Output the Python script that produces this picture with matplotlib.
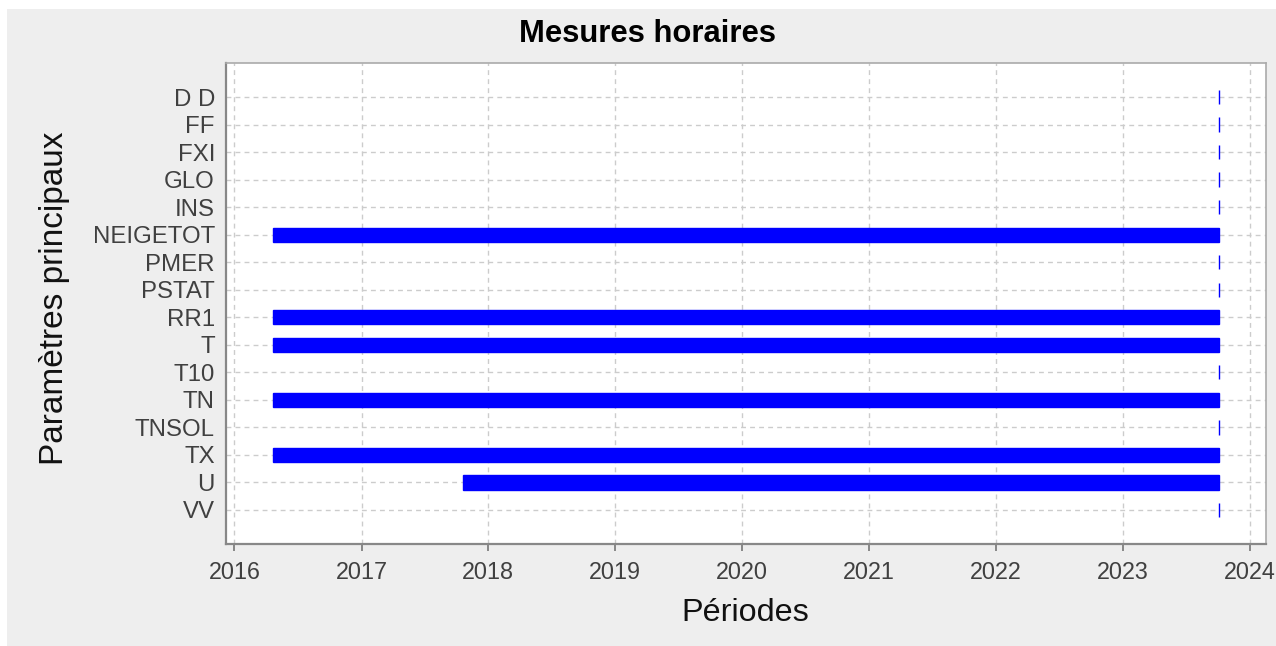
import matplotlib
matplotlib.use("Agg")
import matplotlib.pyplot as plt
import matplotlib.dates as mdates
from matplotlib.patches import Rectangle
from datetime import datetime

plt.rcParams['font.family'] = ['Liberation Sans', 'DejaVu Sans']

# ---- data ----
parameters = ["D D", "FF", "FXI", "GLO", "INS", "NEIGETOT", "PMER", "PSTAT",
              "RR1", "T", "T10", "TN", "TNSOL", "TX", "U", "VV"]
start_dates = ["2023-10-04", "2023-10-04", "2023-10-04", "2023-10-04", "2023-10-04",
               "2016-04-21", "2023-10-04", "2023-10-04",
               "2016-04-21", "2016-04-21", "2023-10-04", "2016-04-21",
               "2023-10-04", "2016-04-21", "2017-10-19", "2023-10-04"]
end_dates = ["2023-10-04"] * 16
x_limits = ["2015-12-08", "2024-02-17"]
title = "Mesures horaires"
xlabel = "Périodes"
ylabel = "Paramètres principaux"

W, H = 1276, 646
fig = plt.figure(figsize=(W / 100, H / 100), dpi=100, facecolor="white")
fig.patches.append(Rectangle((7 / W, 0), 1 - 7 / W, 1 - 9 / H, transform=fig.transFigure,
                             facecolor="#eeeeee", edgecolor="none", zorder=-10))

ax = fig.add_axes([226 / W, 1 - 544 / H, 1040 / W, 481 / H])
ax.set_facecolor("white")

starts = [mdates.date2num(datetime.strptime(s, "%Y-%m-%d")) for s in start_dates]
ends = [mdates.date2num(datetime.strptime(s, "%Y-%m-%d")) for s in end_dates]
ypos = list(range(len(parameters)))
widths = [e - s for s, e in zip(starts, ends)]
ax.barh(ypos, widths, left=starts, height=0.52, color="#0000ff",
        edgecolor="#0000ff", linewidth=1.0, zorder=3)

ax.set_yticks(ypos)
ax.set_yticklabels(parameters)
ax.set_ylim(len(parameters) - 1 + 1.235, -1.235)
ax.set_xlim(mdates.date2num(datetime.strptime(x_limits[0], "%Y-%m-%d")),
            mdates.date2num(datetime.strptime(x_limits[1], "%Y-%m-%d")))
ax.xaxis.set_major_locator(mdates.YearLocator())
ax.xaxis.set_major_formatter(mdates.DateFormatter("%Y"))

ax.set_axisbelow(True)
ax.grid(True, color="#cccccc", linestyle=(0, (3.5, 3)), linewidth=1.0)

for side in ["left", "bottom"]:
    ax.spines[side].set_color("#888888")
    ax.spines[side].set_linewidth(1.6)
for side in ["top", "right"]:
    ax.spines[side].set_color("#aaaaaa")
    ax.spines[side].set_linewidth(1.2)

ax.tick_params(axis="x", direction="out", length=5, width=1.4, color="#888888",
               labelsize=16.8, labelcolor="#404040", pad=7)
ax.tick_params(axis="y", length=0, labelsize=17.3, labelcolor="#404040", pad=8)

fig.text(647.5 / W, 1 - 42 / H, title, ha="center", va="baseline",
         fontsize=22.3, fontweight="bold", color="black")
fig.text(745 / W, 1 - 621 / H, xlabel, ha="center", va="baseline",
         fontsize=23.3, color="#111111")
fig.text(55 / W, 1 - 298 / H, ylabel, ha="center", va="center", rotation=90,
         fontsize=24, color="#111111")

fig.savefig("out.png", dpi=100, facecolor=fig.get_facecolor())
